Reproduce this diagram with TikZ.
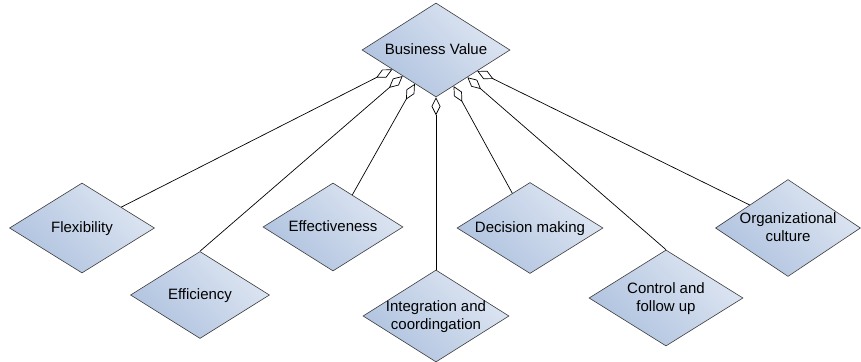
\documentclass[tikz,border=0pt]{standalone}
\usepackage{fontspec}
\setmainfont{Liberation Sans}
\usepackage{tikz}
\usetikzlibrary{shapes.geometric,arrows.meta,positioning}

\definecolor{factlight}{HTML}{DEE6F2}
\definecolor{factdark}{HTML}{AFC2DF}
\definecolor{factline}{HTML}{3C3C3C}

\newcommand{\ftext}[1]{\raisebox{-0.33em}[0pt][0pt]{\makebox[0pt]{\begin{tabular}{@{}c@{}}#1\end{tabular}}}}

\tikzset{
  factor/.style={diamond, draw=factline, line width=0.6pt, inner sep=0pt,
    left color=factlight, right color=factdark, shading angle=-45,
    font=\fontsize{15}{18}\selectfont},
  part/.style={line width=0.7pt, -{Diamond[open, length=18pt, width=9pt, line width=0.7pt]}}
}

\begin{document}
\begin{tikzpicture}[x=1pt,y=1pt,on grid]
\useasboundingbox (0,0) rectangle (861,361);
\node[factor, minimum width=148pt, minimum height=94pt] (v_0) at (436,311) {\ftext{Business Value}};
\node[factor, minimum width=145pt, minimum height=90pt] (f_1) [below left=178pt and 354pt of v_0] {\ftext{Flexibility}};
\node[factor, minimum width=139pt, minimum height=87pt] (f_2) [below left=245pt and 236pt of v_0] {\ftext{Efficiency}};
\node[factor, minimum width=140pt, minimum height=88pt] (f_3) [below left=177pt and 103pt of v_0] {\ftext{Effectiveness}};
\node[factor, minimum width=146pt, minimum height=92pt] (f_4) [below=266pt of v_0] {\ftext{Integration and\\coordingation}};
\node[factor, minimum width=146pt, minimum height=91pt] (f_5) [below right=178pt and 94pt of v_0] {\ftext{Decision making}};
\node[factor, minimum width=154pt, minimum height=96pt] (f_6) [below right=248pt and 230pt of v_0] {\ftext{Control and\\follow up}};
\node[factor, minimum width=145pt, minimum height=97pt] (f_7) [below right=178pt and 352pt of v_0] {\ftext{Organizational\\culture}};

\path[part]
(f_1.28) edge (v_0.204)
(f_2.north) edge (v_0.218)
(f_3.59) edge (v_0.238)
(f_4.north) edge (v_0.south)
(f_5.117) edge (v_0.296)
(f_6.north) edge (v_0.319)
(f_7.149) edge (v_0.333)
; %end path
\end{tikzpicture}
\end{document}
